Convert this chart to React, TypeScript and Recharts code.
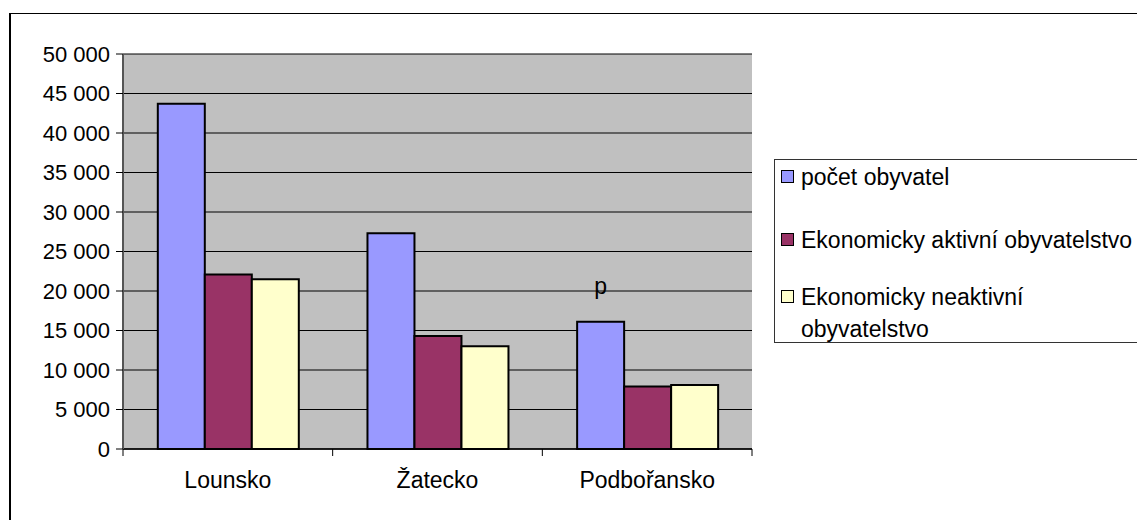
import { BarChart, Bar, XAxis, YAxis, CartesianGrid, LabelList } from 'recharts';

const regions = ['Lounsko', 'Žatecko', 'Podbořansko'];
const pocetObyvatel = [43700, 27300, 16100];
const aktivni = [22100, 14300, 7900];
const neaktivni = [21500, 13000, 8100];
const notes = ['', '', 'p'];
const yTicks = [0, 5000, 10000, 15000, 20000, 25000, 30000, 35000, 40000, 45000, 50000];

const series = [
  { key: 'pocet', name: 'počet obyvatel', color: '#9999FF' },
  { key: 'aktivni', name: 'Ekonomicky aktivní obyvatelstvo', color: '#993366' },
  { key: 'neaktivni', name: 'Ekonomicky neaktivní obyvatelstvo', color: '#FFFFCC' },
];

const data = regions.map((region, i) => ({
  region,
  pocet: pocetObyvatel[i],
  aktivni: aktivni[i],
  neaktivni: neaktivni[i],
  note: notes[i],
}));

const FONT = '"Liberation Sans", Arial, sans-serif';
const LABEL_GAP = 23;
const EDGE_TICK = 7;

// 50000 -> "50 000"
const formatThousands = (v: number) => String(v).replace(/\B(?=(\d{3})+(?!\d))/g, ' ');

// category label plus Excel-style tick marks on the category boundaries
const CategoryTick = (props: any) => {
  const { x, y, payload, index } = props;
  const half = payload?.offset ?? 0;
  const axisY = y - LABEL_GAP;
  return (
    <g>
      <line x1={x - half} x2={x - half} y1={axisY} y2={axisY + EDGE_TICK} stroke="#000" />
      {index === regions.length - 1 && (
        <line x1={x + half} x2={x + half} y1={axisY} y2={axisY + EDGE_TICK} stroke="#000" />
      )}
      <text x={x} y={y} dy="0.71em" textAnchor="middle" fill="#000" fontSize={23} fontFamily={FONT}>
        {payload.value}
      </text>
    </g>
  );
};

export default function App() {
  return (
    <div style={{ position: 'relative', width: 1137, height: 512, fontFamily: FONT, overflow: 'hidden' }}>
      {/* outer frame, right and bottom edges fall outside the picture */}
      <div
        style={{
          position: 'absolute',
          left: 1,
          top: 5,
          right: -10,
          bottom: -10,
          borderTop: '1.5px solid #000',
          borderLeft: '2px solid #000',
        }}
      />

      <div style={{ position: 'absolute', left: 0, top: 0 }}>
        <BarChart
          width={1137}
          height={512}
          data={data}
          margin={{ top: 46, right: 393, left: 0, bottom: 41 }}
          barCategoryGap="16.6%"
          barGap={0}
        >
          <CartesianGrid
            xAxisId="cat"
            vertical={false}
            stroke="#000"
            strokeWidth={1}
            fill="#C0C0C0"
            fillOpacity={1}
          />
          <XAxis
            xAxisId="cat"
            dataKey="region"
            height={30}
            tickLine={false}
            tickSize={0}
            tickMargin={LABEL_GAP}
            axisLine={{ stroke: '#000', strokeWidth: 1.5 }}
            tick={<CategoryTick />}
          />
          <XAxis
            xAxisId="top"
            orientation="top"
            type="number"
            domain={[0, 1]}
            allowDataOverflow
            height={0}
            tick={false}
            tickLine={false}
            axisLine={{ stroke: '#808080', strokeWidth: 2 }}
          />
          <YAxis
            domain={[0, 50000]}
            ticks={yTicks}
            width={115}
            tickSize={7}
            tickMargin={6}
            tickFormatter={formatThousands}
            tickLine={{ stroke: '#000' }}
            axisLine={{ stroke: '#555', strokeWidth: 2 }}
            tick={{ fill: '#000', fontSize: 22, fontFamily: FONT }}
          />
          <YAxis
            yAxisId="right"
            orientation="right"
            domain={[0, 1]}
            allowDataOverflow
            width={0}
            tick={false}
            tickLine={false}
            axisLine={{ stroke: '#808080', strokeWidth: 2 }}
          />
          {series.map((s, i) => (
            <Bar
              key={s.key}
              xAxisId="cat"
              dataKey={s.key}
              name={s.name}
              fill={s.color}
              stroke="#000"
              strokeWidth={2}
              isAnimationActive={false}
            >
              {i === 0 && (
                <LabelList
                  dataKey="note"
                  position="top"
                  offset={28}
                  fill="#000"
                  fontSize={23}
                  fontFamily={FONT}
                />
              )}
            </Bar>
          ))}
        </BarChart>
      </div>

      {/* legend */}
      <div
        style={{
          position: 'absolute',
          left: 766,
          top: 151,
          width: 400,
          height: 184,
          borderTop: '1.5px solid #333',
          borderLeft: '1.5px solid #333',
          borderBottom: '1.5px solid #333',
          background: '#fff',
          boxSizing: 'border-box',
        }}
      >
        {series.map((s, i) => (
          <div
            key={s.key}
            style={{
              display: 'flex',
              alignItems: 'flex-start',
              marginTop: [1, 31, 25][i],
              marginLeft: 6,
            }}
          >
            <div
              style={{
                width: 11,
                height: 11,
                marginTop: 9,
                marginRight: 7,
                background: s.color,
                border: '1.5px solid #000',
                flex: 'none',
              }}
            />
            <div style={{ width: 340, fontSize: 23, lineHeight: '32px', color: '#000' }}>{s.name}</div>
          </div>
        ))}
      </div>
    </div>
  );
}
